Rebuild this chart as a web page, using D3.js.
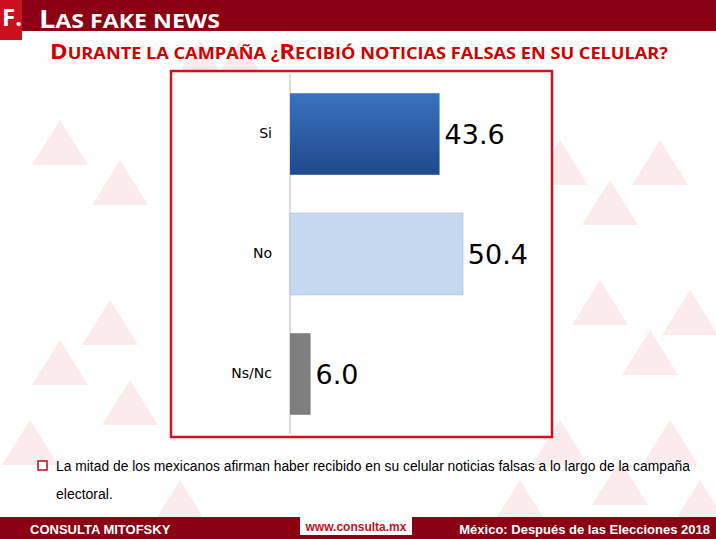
<!DOCTYPE html>
<html><head><meta charset="utf-8">
<script src="https://cdn.jsdelivr.net/npm/d3@7"></script>
<style>body{margin:0;background:#fff}svg{display:block}</style>
</head><body>
<script>
const categories = ["Si", "No", "Ns/Nc"];
const values = [43.6, 50.4, 6.0];
const colors = ["#2c5fa8", "#c5d9f1", "#7f7f7f"];
const labels = ["43.6", "50.4", "6.0"];

const W = 716, H = 539;
const svg = d3.select("body").append("svg").attr("width", W).attr("height", H);
const defs = svg.append("defs");
const g1 = defs.append("linearGradient").attr("id","gSi").attr("x1",0).attr("y1",0).attr("x2",0).attr("y2",1);
g1.append("stop").attr("offset","0%").attr("stop-color","#3a72bf");
g1.append("stop").attr("offset","100%").attr("stop-color","#1f4a8c");

const tris = [[200,40],[240,40],[560,140],[610,180],[660,140],[600,280],[650,330],[690,290],[560,420],[620,460],[670,420],[110,300],[60,340],[130,380],[30,420],[180,480],[700,480],[520,480],[60,120],[120,160]];
svg.append("g").selectAll("path").data(tris).join("path")
  .attr("d", d => `M${d[0]-28},${d[1]+45}L${d[0]},${d[1]}L${d[0]+28},${d[1]+45}Z`)
  .attr("fill", "#fbe3e6").attr("opacity", 0.7);

svg.append("rect").attr("x",0).attr("y",0).attr("width",W).attr("height",31).attr("fill","#8c0014");
svg.append("rect").attr("x",0).attr("y",0).attr("width",22).attr("height",40).attr("fill","#c8101e");
svg.append("text").attr("x",2).attr("y",26).attr("fill","#fff").attr("font-family","Open Sans, sans-serif").attr("font-weight","bold").attr("font-size",24).text("F.");
const ht = svg.append("text").attr("x",39).attr("y",28).attr("fill","#fff").attr("font-family","Open Sans, sans-serif").attr("font-weight","bold").attr("font-size",25).attr("textLength",181).attr("lengthAdjust","spacingAndGlyphs");
ht.append("tspan").text("L"); ht.append("tspan").attr("font-size",20).text("AS FAKE NEWS");

const tt = svg.append("text").attr("x",50).attr("y",59).attr("fill","#d00000").attr("font-family","Open Sans, sans-serif").attr("font-weight","bold").attr("font-size",21).attr("textLength",618).attr("lengthAdjust","spacingAndGlyphs");
[["D","URANTE LA CAMPAÑA ¿"],["R","ECIBIÓ NOTICIAS FALSAS EN SU CELULAR?"]].forEach(([a,b])=>{
  tt.append("tspan").attr("font-size",21).text(a);
  tt.append("tspan").attr("font-size",16).text(b);
});

svg.append("rect").attr("x",171).attr("y",71).attr("width",381).attr("height",366).attr("fill","#fff").attr("stroke","#d0101e").attr("stroke-width",2.5);

const x = d3.scaleLinear().domain([0, 100]).range([290, 633]);
const y = d3.scaleBand().domain(categories).range([74, 434]).paddingInner(0.32).paddingOuter(0.16);

svg.append("line").attr("x1",290).attr("x2",290).attr("y1",74).attr("y2",434).attr("stroke","#bbb");
const gy = svg.append("g").attr("transform","translate(290,0)").call(d3.axisLeft(y).tickSize(0).tickPadding(18));
gy.select(".domain").remove();
gy.selectAll("text").attr("font-family","DejaVu Sans, sans-serif").attr("font-size",14).attr("fill","#000");

svg.append("g").selectAll("rect").data(categories).join("rect")
  .attr("x", x(0)).attr("y", d=>y(d)).attr("height", y.bandwidth())
  .attr("width", (d,i)=>x(values[i])-x(0))
  .attr("fill", (d,i)=> i===0 ? "url(#gSi)" : colors[i])
  .attr("stroke", (d,i)=> i===1 ? "#b0c8e8" : "none");

svg.append("g").selectAll("text").data(categories).join("text")
  .attr("x", (d,i)=>x(values[i])+5).attr("y", d=>y(d)+y.bandwidth()/2+10)
  .attr("font-family","DejaVu Sans, sans-serif").attr("font-size",27).attr("fill","#000")
  .text((d,i)=>labels[i]);

svg.append("rect").attr("x",38).attr("y",461).attr("width",9).attr("height",9).attr("fill","#fff").attr("stroke","#b01020").attr("stroke-width",1.5);
svg.append("text").attr("x",56).attr("y",471).attr("font-family","Liberation Sans, Arial, sans-serif").attr("font-size",14).attr("textLength",634).attr("lengthAdjust","spacingAndGlyphs").text("La mitad de los mexicanos afirman haber recibido en su celular noticias falsas a lo largo de la campaña");
svg.append("text").attr("x",56).attr("y",499).attr("font-family","Liberation Sans, Arial, sans-serif").attr("font-size",14).text("electoral.");

svg.append("rect").attr("x",0).attr("y",517).attr("width",W).attr("height",22).attr("fill","#8c0014");
svg.append("rect").attr("x",300).attr("y",517).attr("width",112).attr("height",18).attr("fill","#fff");
svg.append("text").attr("x",356).attr("y",531).attr("text-anchor","middle").attr("fill","#c8101e").attr("font-family","Liberation Sans, Arial, sans-serif").attr("font-weight","bold").attr("font-size",12).text("www.consulta.mx");
svg.append("text").attr("x",30).attr("y",534).attr("fill","#fff").attr("font-family","Liberation Sans Narrow, Liberation Sans, sans-serif").attr("font-weight","bold").attr("font-size",13).text("CONSULTA MITOFSKY");
svg.append("text").attr("x",710).attr("y",534).attr("text-anchor","end").attr("fill","#fff").attr("font-family","Liberation Sans Narrow, Liberation Sans, sans-serif").attr("font-weight","bold").attr("font-size",13).text("México: Después de las Elecciones 2018");
</script>
</body></html>
